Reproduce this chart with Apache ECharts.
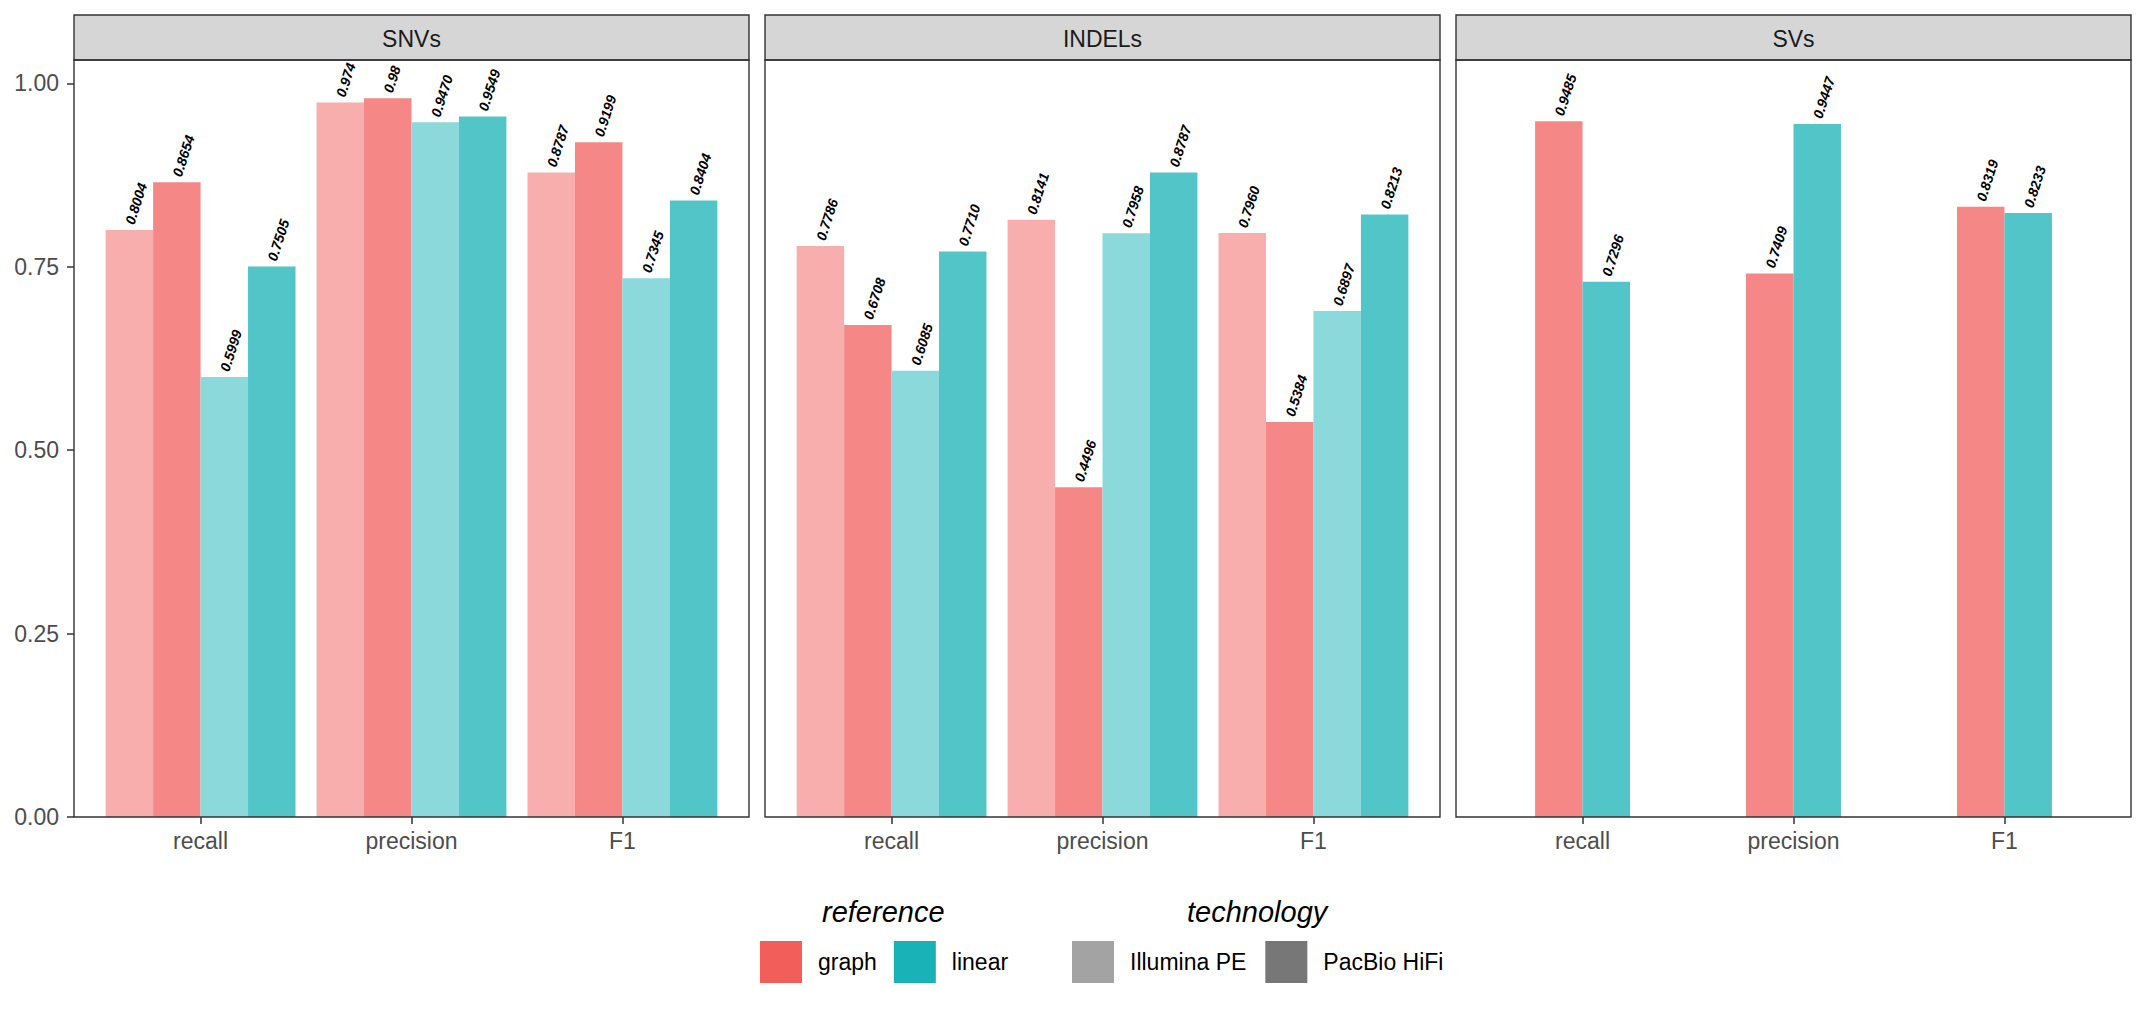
<!DOCTYPE html>
<html><head><meta charset="utf-8">
<script src="https://cdn.jsdelivr.net/npm/echarts@6/dist/echarts.min.js"></script>
<style>html,body{margin:0;padding:0;background:#fff}#c{width:2146px;height:1014px}</style>
</head><body><div id="c"></div>
<script>
// ---------- data ----------
const categories = ['recall', 'precision', 'F1'];
const panelNames = ['SNVs', 'INDELs', 'SVs'];
const yTicks = [0, 0.25, 0.5, 0.75, 1.0];
const referenceLegend = ['graph', 'linear'];
const technologyLegend = ['Illumina PE', 'PacBio HiFi'];

// values as printed on the bars
const snvGraphIllumina    = ['0.8004', '0.974',  '0.8787'];
const snvGraphPacBio      = ['0.8654', '0.98',   '0.9199'];
const snvLinearIllumina   = ['0.5999', '0.9470', '0.7345'];
const snvLinearPacBio     = ['0.7505', '0.9549', '0.8404'];
const indelGraphIllumina  = ['0.7786', '0.8141', '0.7960'];
const indelGraphPacBio    = ['0.6708', '0.4496', '0.5384'];
const indelLinearIllumina = ['0.6085', '0.7958', '0.6897'];
const indelLinearPacBio   = ['0.7710', '0.8787', '0.8213'];
const svGraphPacBio       = ['0.9485', '0.7409', '0.8319'];
const svLinearPacBio      = ['0.7296', '0.9447', '0.8233'];

// ---------- styling / layout ----------
const COL = {
  graphIllumina: '#F8AEAC', graphPacBio: '#F58886',
  linearIllumina: '#8BD9DB', linearPacBio: '#52C5C8',
  legGraph: '#F25F5A', legLinear: '#19B2B6', legIllumina: '#A3A3A3', legPacBio: '#777777'
};
const PANEL_LEFT = [74, 765, 1456];
const PANEL_W = 675;
const PANEL_TOP = 60;
const PANEL_BOTTOM = 817;
const STRIP_TOP = 15;
const INSET = PANEL_W / 3.2 * 0.1;
const Y_MAX = 1.032;
const FONT = '"Liberation Sans", Arial, sans-serif';

const panelSeries = [
  [['graph Illumina PE', snvGraphIllumina, COL.graphIllumina], ['graph PacBio HiFi', snvGraphPacBio, COL.graphPacBio],
   ['linear Illumina PE', snvLinearIllumina, COL.linearIllumina], ['linear PacBio HiFi', snvLinearPacBio, COL.linearPacBio]],
  [['graph Illumina PE', indelGraphIllumina, COL.graphIllumina], ['graph PacBio HiFi', indelGraphPacBio, COL.graphPacBio],
   ['linear Illumina PE', indelLinearIllumina, COL.linearIllumina], ['linear PacBio HiFi', indelLinearPacBio, COL.linearPacBio]],
  [['graph PacBio HiFi', svGraphPacBio, COL.graphPacBio], ['linear PacBio HiFi', svLinearPacBio, COL.linearPacBio]]
];

const grids = [], xAxes = [], yAxes = [], series = [], graphics = [];
panelNames.forEach((name, i) => {
  const L = PANEL_LEFT[i];
  grids.push({ left: L + INSET, width: PANEL_W - 2 * INSET, top: PANEL_TOP, height: PANEL_BOTTOM - PANEL_TOP });
  xAxes.push({
    type: 'category', gridIndex: i, data: categories,
    axisLine: { show: false },
    axisTick: { show: true, alignWithLabel: true, length: 7, lineStyle: { color: '#333333', width: 1.5 } },
    axisLabel: { fontSize: 23, color: '#4D4D4D', margin: 12, fontFamily: FONT },
    splitLine: { show: false }
  });
  yAxes.push({
    type: 'value', gridIndex: i, min: 0, max: Y_MAX, offset: INSET,
    axisLine: { show: false },
    axisTick: { show: i === 0, length: 7, customValues: yTicks, lineStyle: { color: '#333333', width: 1.5 } },
    axisLabel: { show: i === 0, customValues: yTicks, fontSize: 23, color: '#4D4D4D', margin: 15, fontFamily: FONT,
                 formatter: v => v.toFixed(2) },
    splitLine: { show: false }
  });
  const list = panelSeries[i];
  list.forEach(([sname, vals, color]) => {
    series.push({
      type: 'bar', name: sname, xAxisIndex: i, yAxisIndex: i,
      data: vals.map(s => parseFloat(s)),
      barGap: '0%', barCategoryGap: list.length === 4 ? '10%' : '55%',
      itemStyle: { color: color },
      label: {
        show: true, position: 'top', distance: 6, rotate: 72, align: 'left', verticalAlign: 'middle',
        fontSize: 14, fontWeight: 'bold', fontStyle: 'italic', color: '#000', fontFamily: FONT,
        formatter: p => vals[p.dataIndex]
      },
      emphasis: { disabled: true }, silent: true
    });
  });
  graphics.push({ type: 'rect', shape: { x: L, y: STRIP_TOP, width: PANEL_W, height: PANEL_TOP - STRIP_TOP },
                  style: { fill: '#D6D6D6', stroke: '#333333', lineWidth: 1.4 }, z: 10 });
  graphics.push({ type: 'text', x: L + PANEL_W / 2, y: (STRIP_TOP + PANEL_TOP) / 2 + 1,
                  style: { text: name, fill: '#1A1A1A', fontSize: 23, fontFamily: FONT, align: 'center', verticalAlign: 'middle' }, z: 11 });
  graphics.push({ type: 'rect', shape: { x: L, y: PANEL_TOP, width: PANEL_W, height: PANEL_BOTTOM - PANEL_TOP },
                  style: { fill: 'none', stroke: '#333333', lineWidth: 1.4 }, z: 10 });
});

// legend-only series
[[referenceLegend[0], COL.legGraph], [referenceLegend[1], COL.legLinear],
 [technologyLegend[0], COL.legIllumina], [technologyLegend[1], COL.legPacBio]].forEach(([n, c]) => {
  series.push({ type: 'scatter', name: n, data: [], xAxisIndex: 0, yAxisIndex: 0, itemStyle: { color: c, opacity: 1 } });
});

const legendCommon = {
  orient: 'horizontal', icon: 'rect', itemWidth: 42, itemHeight: 42, selectedMode: false,
  top: 941, padding: 0,
  itemStyle: { opacity: 1 },
  textStyle: { fontSize: 23, color: '#000', fontFamily: FONT, padding: [0, 0, 0, 11] }
};

const option = {
  backgroundColor: '#ffffff',
  animation: false,
  title: [
    { text: 'reference', left: 822, top: 897, padding: 0,
      textStyle: { fontSize: 29, fontStyle: 'italic', fontWeight: 'normal', color: '#000', fontFamily: FONT } },
    { text: 'technology', left: 1187, top: 897, padding: 0,
      textStyle: { fontSize: 29, fontStyle: 'italic', fontWeight: 'normal', color: '#000', fontFamily: FONT } }
  ],
  legend: [
    Object.assign({}, legendCommon, { data: referenceLegend, left: 760, itemGap: 17 }),
    Object.assign({}, legendCommon, { data: technologyLegend, left: 1072, itemGap: 19 })
  ],
  grid: grids, xAxis: xAxes, yAxis: yAxes, series: series,
  graphic: graphics
};

const chart = echarts.init(document.getElementById('c'), null, { renderer: 'svg' });
chart.setOption(option);
</script>
</body></html>
